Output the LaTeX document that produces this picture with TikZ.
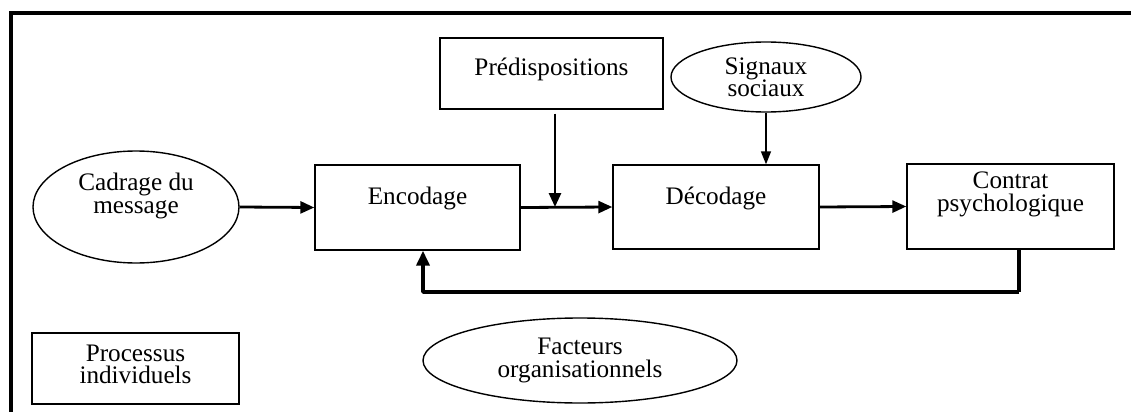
\documentclass[tikz,border=0pt]{standalone}
\usepackage{fontspec}
\setmainfont{Liberation Serif}
\usetikzlibrary{shapes.geometric,arrows.meta,calc}
\begin{document}
\begin{tikzpicture}[x=0.5pt,y=-0.5pt,
  every node/.style={font=\fontsize{12.6}{11.2}\selectfont, align=center, inner sep=0pt},
  box/.style={draw, line width=0.7pt, rectangle},
  ell/.style={draw, line width=0.7pt, ellipse},
  arr/.style={line width=1.4pt, -{Triangle[length=7pt,width=6pt]}},
  thinarr/.style={line width=0.8pt, -{Triangle[length=6.5pt,width=5pt]}},
  fb/.style={line width=1.8pt}
]
\useasboundingbox (0,0) rectangle (1131,412);
% frame
\draw[line width=2pt] (1131,13) -- (11,13) -- (11,412);
% nodes
\node[ell, minimum width=103pt, minimum height=56pt,
  label={[name=cadt, yshift=5.5pt]center:Cadrage du\\message}] (cad) at (136,207) {};
\node[box, minimum width=102.5pt, minimum height=42.5pt,
  label={[name=enct, yshift=4.75pt]center:Encodage}] (enc) at (417.5,207.5) {};
\node[box, minimum width=111.5pt, minimum height=35.5pt,
  label={[name=predt, yshift=2pt]center:Prédispositions}] (pred) at (551.5,73.5) {};
\node[ell, minimum width=95pt, minimum height=35pt,
  label={[name=sigt, yshift=0pt]center:Signaux\\sociaux}] (sig) at (766,77) {};
\node[box, minimum width=103pt, minimum height=42pt,
  label={[name=dect, yshift=4.5pt]center:Décodage}] (dec) at (716,207) {};
\node[box, minimum width=103.5pt, minimum height=42.5pt,
  label={[name=cont, yshift=6pt]center:Contrat\\psychologique}] (con) at (1010.5,206.5) {};
\node[box, minimum width=103.5pt, minimum height=35.5pt,
  label={[name=proct, yshift=2pt]center:Processus\\individuels}] (proc) at (135.5,368.5) {};
\node[ell, minimum width=157pt, minimum height=42.5pt,
  label={[name=fact, yshift=0pt]center:Facteurs\\organisationnels}] (fac) at (580,360.5) {};
% helper coordinates
\coordinate (join) at (555,207);
\coordinate (fbA) at (1019,292);
\coordinate (fbB) at (423,292);
% connectors
\draw[arr] (cad.east) -- (enc.west);
\draw[arr] (enc.east) -- (dec.west);
\draw[arr] ($(pred.south)+(3.5,4)$) -- (join);
\draw[thinarr] (sig.south) -- (dec.north -| sig.south);
\draw[arr] (dec.east) -- (con.west);
\draw[line width=2.4pt] (con.south -| fbA) -- (fbA);
\draw[fb, line join=round] (fbA) -- (fbB) -- ++(0,-4);
\draw[fb, -{Triangle[length=7.5pt,width=6.5pt]}] (fbB) -- (enc.south -| fbB);
\end{tikzpicture}
\end{document}
